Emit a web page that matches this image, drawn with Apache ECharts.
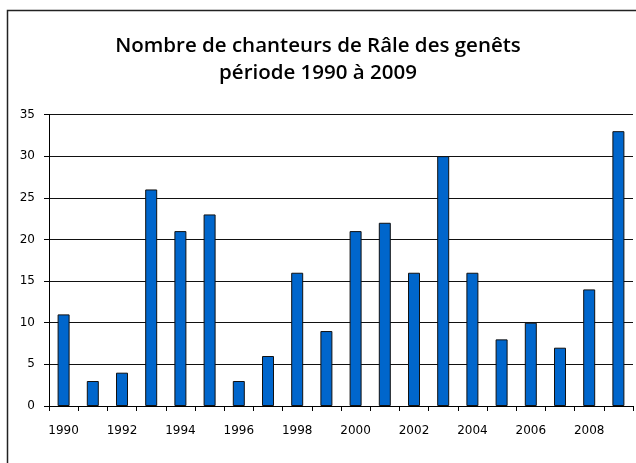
<!DOCTYPE html>
<html>
<head>
<meta charset="utf-8">
<script src="https://cdn.jsdelivr.net/npm/echarts@6/dist/echarts.min.js"></script>
<style>html,body{margin:0;padding:0;background:#fff}#c{width:636px;height:463px}</style>
</head>
<body>
<div id="c"></div>
<script>
const years = ['1990','1991','1992','1993','1994','1995','1996','1997','1998','1999','2000','2001','2002','2003','2004','2005','2006','2007','2008','2009'];
const chanteurs = [11,3,4,26,21,23,3,6,16,9,21,22,16,30,16,8,10,7,14,33];
const yTicks = [0,5,10,15,20,25,30,35];
const titleLines = ['Nombre de chanteurs de Râle des genêts','période 1990 à 2009'];

const chart = echarts.init(document.getElementById('c'), null, {renderer:'canvas'});
chart.setOption({
  animation:false,
  backgroundColor:'#fff',
  title:{
    text: titleLines.join('\n'),
    left:'center', top:28,
    textStyle:{fontFamily:'Open Sans', fontWeight:600, fontSize:20.5, color:'#000', lineHeight:27}
  },
  graphic:[{type:'rect', shape:{x:7.5,y:10.5,width:640,height:470}, style:{fill:null, stroke:'#222', lineWidth:1.5}, silent:true}],
  grid:{left:49, right:3, top:114.5, bottom:57, containLabel:false},
  xAxis:{
    type:'category', data:years, boundaryGap:true,
    axisLine:{lineStyle:{color:'#000', width:1}},
    axisTick:{show:true, interval:0, length:5, lineStyle:{color:'#000'}},
    axisLabel:{interval:1, margin:19, fontFamily:'DejaVu Sans', fontSize:12, color:'#000'}
  },
  yAxis:{
    type:'value', min:yTicks[0], max:yTicks[yTicks.length-1], interval:5,
    axisLine:{show:true, lineStyle:{color:'#000', width:1}},
    axisTick:{show:true, length:5, lineStyle:{color:'#000'}},
    axisLabel:{margin:14, fontFamily:'DejaVu Sans', fontSize:12, color:'#000'},
    splitLine:{show:true, lineStyle:{color:'#111', width:1}}
  },
  series:[{
    type:'bar', data:chanteurs, barWidth:12,
    itemStyle:{color:'#0066CC', borderColor:'#111', borderWidth:1}
  }]
});
</script>
</body>
</html>
